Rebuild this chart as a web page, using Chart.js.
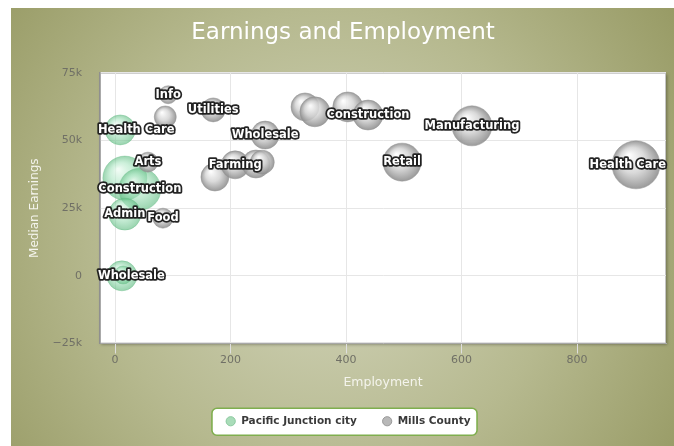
<!DOCTYPE html>
<html><head><meta charset="utf-8">
<script src="https://cdn.jsdelivr.net/npm/chart.js@4.4.1/dist/chart.umd.min.js"></script>
<style>html,body{margin:0;padding:0;background:#fff;overflow:hidden}#wrap{width:674px;height:446px;position:relative}</style>
</head><body><div id="wrap"><canvas id="c" width="674" height="446"></canvas></div>
<script>
// ---- data ----
const seriesNames = ['Pacific Junction city', 'Mills County'];
const pjLabels     = ['Health Care', '', 'Construction', 'Admin', 'Wholesale', ''];
const pjEmployment = [9, 17, 43, 17, 12, 14];
const pjEarnings   = [53900, 36100, 32000, 22800, 0, 300];
const pjBubble     = [15, 22, 21, 16, 15, 9];

const mcLabels     = ['Info', '', 'Utilities', 'Arts', 'Food', 'Wholesale', '', 'Farming', '', '', '', '', '', 'Construction', 'Manufacturing', 'Retail', 'Health Care'];
const mcEmployment = [92, 87, 170, 57, 83, 260, 173, 208, 244, 255, 329, 346, 403, 438, 618, 497, 902];
const mcEarnings   = [66900, 58700, 61300, 42000, 21300, 52000, 36500, 41000, 41300, 42000, 62400, 60600, 62400, 59400, 55400, 42000, 41000];
const mcBubble     = [9, 11, 12, 10, 10, 14, 14, 14, 14, 12, 14, 15, 15, 15, 20, 19, 24];

const xTicks = [0, 200, 400, 600, 800];
const yTicks = [-25000, 0, 25000, 50000, 75000];

function pts(xs, ys, rs) { return xs.map((x, i) => ({ x: x, y: ys[i], r: rs[i] })); }

function makeFill(kind) {
  return function (ctx) {
    const flat = kind === 'green' ? 'rgba(140,215,165,0.6)' : 'rgba(190,190,190,0.85)';
    if (ctx.type !== 'data') return flat;
    const ch = ctx.chart, xs = ch.scales.x, ys = ch.scales.y;
    if (!xs || !ys || !ch.chartArea) return flat;
    const px = xs.getPixelForValue(ctx.raw.x), py = ys.getPixelForValue(ctx.raw.y), r = ctx.raw.r;
    const g = ch.ctx.createRadialGradient(px - r * 0.3, py - r * 0.4, r * 0.05, px, py, r);
    if (kind === 'green') {
      g.addColorStop(0, 'rgba(235,250,240,0.7)');
      g.addColorStop(0.45, 'rgba(165,228,190,0.55)');
      g.addColorStop(1, 'rgba(90,185,125,0.62)');
    } else {
      g.addColorStop(0, 'rgba(252,252,252,0.9)');
      g.addColorStop(0.5, 'rgba(212,212,212,0.85)');
      g.addColorStop(1, 'rgba(140,140,140,0.88)');
    }
    return g;
  };
}

const bgPlugin = {
  id: 'bg',
  beforeDraw(chart) {
    const c = chart.ctx, a = chart.chartArea;
    c.save();
    const g = c.createRadialGradient(330, 240, 0, 330, 240, 420);
    g.addColorStop(0, '#d3d5bc');
    g.addColorStop(0.55, '#b6b98f');
    g.addColorStop(1, '#979a64');
    c.fillStyle = g;
    c.fillRect(11, 8, 663, 438);
    c.shadowColor = 'rgba(0,0,0,0.35)';
    c.shadowBlur = 3; c.shadowOffsetX = 1; c.shadowOffsetY = 1;
    c.fillStyle = '#fff';
    c.fillRect(a.left, a.top, a.right - a.left, a.bottom - a.top);
    c.shadowColor = 'transparent';
    c.strokeStyle = '#c4c4c4'; c.lineWidth = 1;
    c.strokeRect(a.left + 0.5, a.top + 0.5, a.right - a.left - 1, a.bottom - a.top - 1);
    const lg = chart.legend;
    if (lg && lg.legendHitBoxes && lg.legendHitBoxes.length) {
      const hb = lg.legendHitBoxes;
      let x0 = Infinity, x1 = -Infinity, y0 = Infinity, y1 = -Infinity;
      hb.forEach(h => { x0 = Math.min(x0, h.left); x1 = Math.max(x1, h.left + h.width); y0 = Math.min(y0, h.top); y1 = Math.max(y1, h.top + h.height); });
      const cy = (y0 + y1) / 2;
      const bx = x0 - 14, by = cy - 13.5, bw = x1 - x0 + 20, bh = 27;
      c.beginPath();
      c.roundRect(bx + 0.5, by + 0.5, bw, bh, 5);
      c.fillStyle = '#fff'; c.fill();
      c.strokeStyle = '#7fae4e'; c.lineWidth = 1.6; c.stroke();
    }
    c.restore();
  },
  afterLayout(chart) {
    const lg = chart.legend;
    if (lg) { lg.left += 15; lg.right += 15; }
    const tb = chart.titleBlock;
    if (tb) { tb.left += 10; tb.right += 10; }
  }
};

const labelPlugin = {
  id: 'bubbleLabels',
  afterDatasetsDraw(chart) {
    const c = chart.ctx, a = chart.chartArea;
    c.save();
    c.font = 'bold 11.5px "DejaVu Sans"';
    c.textAlign = 'center'; c.textBaseline = 'middle';
    c.lineJoin = 'round'; c.lineWidth = 3.5; c.strokeStyle = 'rgba(25,25,25,0.95)';
    c.fillStyle = '#fff';
    chart.data.datasets.forEach((ds, di) => {
      const meta = chart.getDatasetMeta(di);
      meta.data.forEach((el, i) => {
        const t = ds.pointLabels[i];
        if (!t) return;
        const w = c.measureText(t).width;
        let x = el.x;
        if (x - w / 2 < a.left - 2) x = a.left - 2 + w / 2;
        if (x + w / 2 > a.right) x = a.right - w / 2;
        c.strokeText(t, x, el.y);
        c.fillText(t, x, el.y);
      });
    });
    c.restore();
  }
};

const legendColors = [
  { fill: '#a9dcb9', stroke: '#8ccaa0' },
  { fill: '#b8b8b8', stroke: '#9a9a9a' }
];

new Chart(document.getElementById('c'), {
  type: 'bubble',
  data: {
    datasets: [
      { label: seriesNames[0], data: pts(pjEmployment, pjEarnings, pjBubble), pointLabels: pjLabels,
        backgroundColor: makeFill('green'), borderColor: 'rgba(110,190,140,0.4)', borderWidth: 1, order: 1 },
      { label: seriesNames[1], data: pts(mcEmployment, mcEarnings, mcBubble), pointLabels: mcLabels,
        backgroundColor: makeFill('gray'), borderColor: 'rgba(150,150,150,0.5)', borderWidth: 1, order: 0 }
    ]
  },
  options: {
    responsive: false,
    animation: false,
    devicePixelRatio: 1,
    layout: { autoPadding: false, padding: { left: 0, right: 8, top: 0, bottom: 9.5 } },
    plugins: {
      title: { display: true, text: 'Earnings and Employment', color: '#ffffff',
        font: { family: 'DejaVu Sans', size: 23, weight: 'normal' }, padding: { top: 19, bottom: 26.2 } },
      legend: { position: 'bottom',
        labels: { usePointStyle: true, pointStyle: 'circle', boxWidth: 17, boxHeight: 6.5, padding: 25,
          color: '#3a3a3a', font: { family: 'DejaVu Sans', size: 10.5, weight: 'bold' },
          generateLabels(chart) {
            return chart.data.datasets.map((ds, i) => ({ text: ds.label, fillStyle: legendColors[i].fill,
              strokeStyle: legendColors[i].stroke, lineWidth: 1, pointStyle: 'circle', datasetIndex: i, hidden: false, fontColor: '#3a3a3a' }));
          } } },
      tooltip: { enabled: false }
    },
    scales: {
      x: { type: 'linear', min: -26, max: 954,
        afterBuildTicks(s) { s.ticks = xTicks.map(v => ({ value: v })); },
        afterFit(s) { s.height = 47.5; },
        grid: { color: '#e6e6e6', tickColor: '#dedede', tickLength: 10 },
        border: { color: '#a8a8a8' },
        ticks: { color: '#707066', padding: 0, font: { family: 'DejaVu Sans', size: 11 } },
        title: { display: true, text: 'Employment', color: '#f4f4ec', font: { family: 'DejaVu Sans', size: 12.5 }, padding: { top: 4, bottom: 1 } } },
      y: { type: 'linear', min: -25000, max: 75000,
        afterBuildTicks(s) { s.ticks = yTicks.map(v => ({ value: v })); },
        afterFit(s) { s.width = 100; },
        grid: { color: '#e6e6e6', drawTicks: false },
        border: { color: '#8f8f8f', width: 1.5 },
        ticks: { color: '#707066', padding: 18, font: { family: 'DejaVu Sans', size: 11 },
          callback: v => v === 0 ? '0' : (v < 0 ? '\u2212' + Math.abs(v / 1000) + 'k' : (v / 1000) + 'k') },
        title: { display: true, text: 'Median Earnings', color: '#f4f4ec', font: { family: 'DejaVu Sans', size: 12 }, padding: { top: 28, bottom: 0 } } }
    }
  },
  plugins: [bgPlugin, labelPlugin]
});
</script>
</body></html>
